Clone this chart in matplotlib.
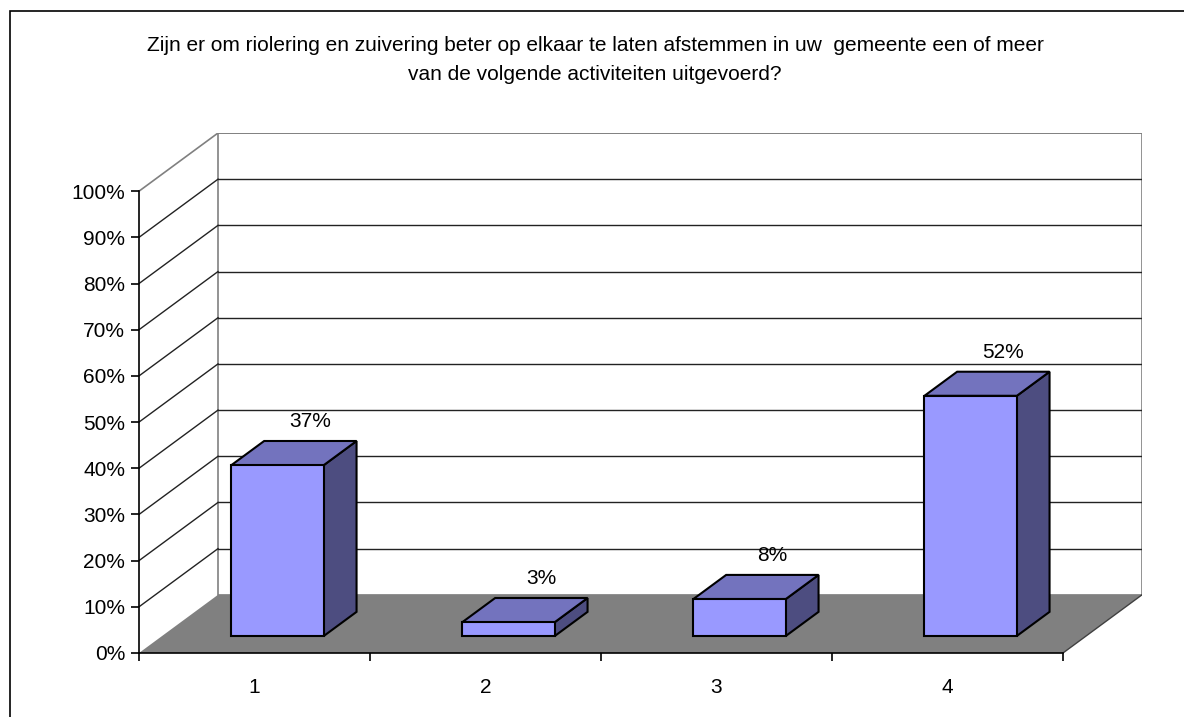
import numpy as np
import matplotlib
matplotlib.use("Agg")
import matplotlib.pyplot as plt
from matplotlib.patches import Polygon, Rectangle

# data
categories = ["1", "2", "3", "4"]
values = [37, 3, 8, 52]
yticks = list(range(0, 101, 10))
ytick_labels = [f"{t}%" for t in yticks]
title = ("Zijn er om riolering en zuivering beter op elkaar te laten afstemmen in uw  gemeente een of meer\n"
         "van de volgende activiteiten uitgevoerd?")

plt.rcParams["font.family"] = ["Liberation Sans", "DejaVu Sans"]
fs = 15

# 3d look: depth offset of the back wall in data units
D = 0.342      # in categories
H = 12.6       # in percent
f0, f1 = 0.293, 0.707   # depth range of the bars
bw = 0.40               # bar width

c_front = "#9999FF"
c_top = "#7373BE"
c_side = "#4D4D80"
c_floor = "#808080"

fig = plt.figure(figsize=(11.84, 7.17), dpi=100)
W, Hpx = 1184, 717
ax = fig.add_axes([139 / W, (Hpx - 653) / Hpx, (1142 - 139) / W, (653 - 133) / Hpx])
ax.set_xlim(0, len(categories) + D)
ax.set_ylim(0, 100 + H)
ax.patch.set_visible(False)

# back wall
ax.add_patch(Rectangle((D, H), len(categories), 100, facecolor="white",
                       edgecolor="#808080", lw=1.2, zorder=1))
# floor
ax.add_patch(Polygon([(0, 0), (len(categories), 0), (len(categories) + D, H), (D, H)],
                     closed=True, facecolor=c_floor, edgecolor="none", zorder=2))
ax.plot([len(categories), len(categories) + D], [0, H], color="#404040", lw=1, zorder=2)

# gridlines on back wall and side wall
for t in yticks[1:]:
    col = "#808080" if t == 100 else "#222222"
    ax.plot([D, len(categories) + D], [t + H, t + H], color=col, lw=1 if t < 100 else 1.2, zorder=1.5)
    ax.plot([0, D], [t, t + H], color=col, lw=1 if t < 100 else 1.2, zorder=1.5)

# bars
for i, v in enumerate(values):
    x0 = i + 0.5 - bw / 2 + f0 * D
    y0 = f0 * H
    ddx, ddy = (f1 - f0) * D, (f1 - f0) * H
    front = [(x0, y0), (x0 + bw, y0), (x0 + bw, y0 + v), (x0, y0 + v)]
    top = [(x0, y0 + v), (x0 + bw, y0 + v), (x0 + bw + ddx, y0 + v + ddy), (x0 + ddx, y0 + v + ddy)]
    side = [(x0 + bw, y0), (x0 + bw + ddx, y0 + ddy), (x0 + bw + ddx, y0 + v + ddy), (x0 + bw, y0 + v)]
    for pts, col in [(side, c_side), (top, c_top), (front, c_front)]:
        ax.add_patch(Polygon(pts, closed=True, facecolor=col, edgecolor="black",
                             lw=1.5, joinstyle="miter", zorder=3))
    ax.annotate(f"{v}%", (x0 + bw / 2 + ddx, y0 + v + ddy), xytext=(0, 14),
                textcoords="offset points", ha="center", va="center", fontsize=fs)

# axes lines and ticks
for s in ["top", "right"]:
    ax.spines[s].set_visible(False)
ax.spines["left"].set_bounds(0, 100)
ax.spines["bottom"].set_bounds(0, len(categories))
for s in ["left", "bottom"]:
    ax.spines[s].set_linewidth(1.2)
    ax.spines[s].set_zorder(4)
ax.set_yticks(yticks)
ax.set_yticklabels(ytick_labels, fontsize=fs)
ax.set_xticks(range(len(categories) + 1))
ax.set_xticklabels([])
ax.set_xticks(np.arange(len(categories)) + 0.5, minor=True)
ax.set_xticklabels(categories, minor=True, fontsize=fs)
ax.tick_params(axis="both", which="major", length=6, width=1.2, direction="out")
ax.tick_params(axis="y", pad=4)
ax.tick_params(axis="x", which="minor", length=0, pad=18)

# title
fig.text(595 / W, 1 - 60 / Hpx, title, ha="center", va="center", fontsize=fs,
         linespacing=1.65)

# outer frame
fig.patches.append(Rectangle((10 / W, -0.1), 1.2, 1 - 11 / Hpx + 0.1, transform=fig.transFigure,
                             facecolor="none", edgecolor="black", lw=1.2))

fig.savefig("out.png", dpi=100)
